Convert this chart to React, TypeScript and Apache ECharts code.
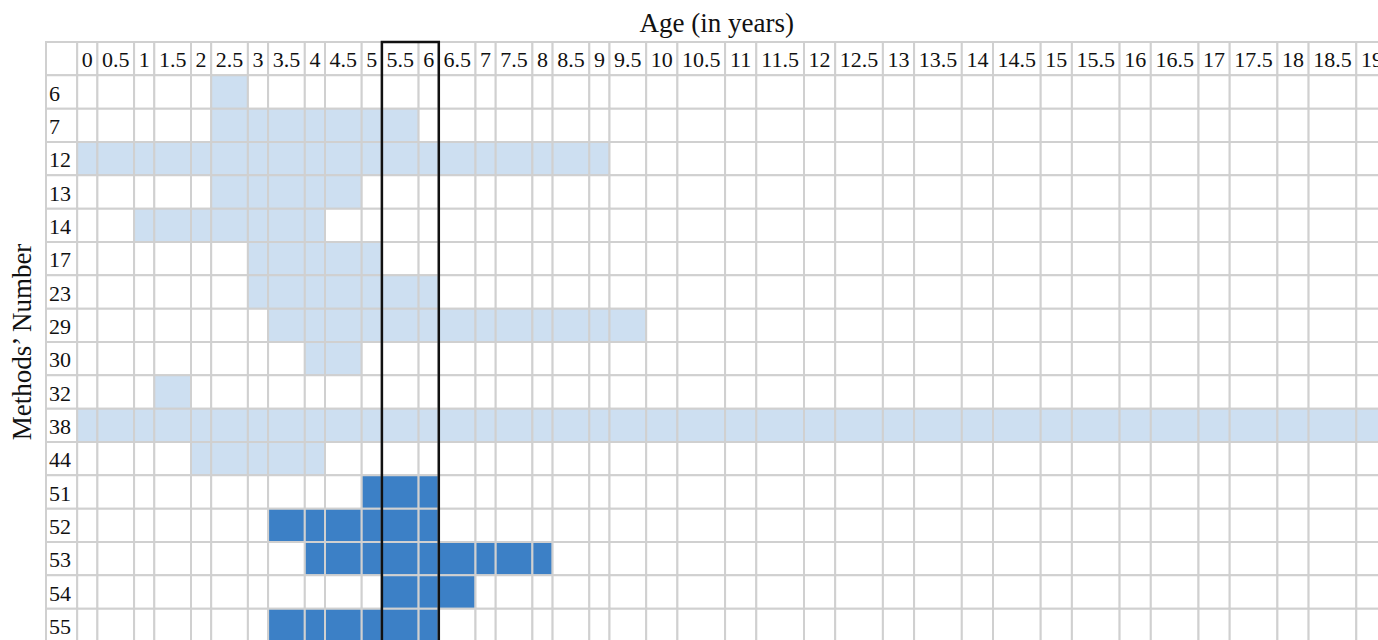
import React, { useEffect, useRef } from "react";
import * as echarts from "echarts";

// ---- data ----
const AGES = [
  "0", "0.5", "1", "1.5", "2", "2.5", "3", "3.5", "4", "4.5", "5", "5.5", "6", "6.5",
  "7", "7.5", "8", "8.5", "9", "9.5", "10", "10.5", "11", "11.5", "12", "12.5", "13",
  "13.5", "14", "14.5", "15", "15.5", "16", "16.5", "17", "17.5", "18", "18.5", "19",
];
const METHODS = ["6", "7", "12", "13", "14", "17", "23", "29", "30", "32", "38", "44", "51", "52", "53", "54", "55"];
const SPAN_FROM = ["2.5", "2.5", "0", "2.5", "1", "3", "3", "3.5", "4", "1.5", "0", "2", "5", "3.5", "4", "5.5", "3.5"];
const SPAN_TO = ["2.5", "5.5", "9", "4.5", "4", "5", "6", "9.5", "4.5", "1.5", "19", "4", "6", "6", "8", "6.5", "6"];
// 1 = light group, 2 = dark group
const GROUP = [1, 1, 1, 1, 1, 1, 1, 1, 1, 1, 1, 1, 2, 2, 2, 2, 2];
const FOCUS = ["5.5", "6"];
const X_TITLE = "Age (in years)";
const Y_TITLE = "Methods\u2019 Number";

// ---- style ----
const FONT = 22;
const PAD = 9.2;
const FAMILY = '"Liberation Serif", "Times New Roman", serif';
const LIGHT = "#cddff1";
const DARK = "#3c80c6";
const LINE = "#d0d0d0";

const textWidth = (s: string) =>
  s.split("").reduce((a, ch) => a + (ch === "." ? 0.25 : 0.5) * FONT, 0);
const colWidth = (s: string) => textWidth(s) + PAD;

export default function App() {
  const ref = useRef<HTMLDivElement>(null);
  useEffect(() => {
    if (!ref.current) return;
    const chart = echarts.init(ref.current, null, { renderer: "svg" });

    const labelW = Math.max(...METHODS.map(colWidth));
    const edges: number[] = [0, labelW];
    AGES.forEach((a) => edges.push(edges[edges.length - 1] + colWidth(a)));
    const total = edges[edges.length - 1];
    const rows = ["", ...METHODS];

    // cells: [x0, x1, row, state, col]  state: 0 empty,1 light,2 dark,3 header,4 label,5 corner
    const cells: number[][] = [];
    rows.forEach((_, r) => {
      for (let c = -1; c < AGES.length; c++) {
        let state = 0;
        if (r === 0) state = c === -1 ? 5 : 3;
        else if (c === -1) state = 4;
        else {
          const i = r - 1;
          const f = AGES.indexOf(SPAN_FROM[i]);
          const t = AGES.indexOf(SPAN_TO[i]);
          if (c >= f && c <= t) state = GROUP[i];
        }
        cells.push([edges[c + 1], edges[c + 2], r, state, c]);
      }
    });

    const fIdx = AGES.indexOf(FOCUS[0]);
    const tIdx = AGES.indexOf(FOCUS[FOCUS.length - 1]);
    const focus = [[edges[fIdx + 1], edges[tIdx + 2], 0, rows.length - 1]];

    chart.setOption({
      animation: false,
      backgroundColor: "#ffffff",
      grid: { left: 46, top: 42, width: total, height: 600, outerBoundsMode: "none", containLabel: false },
      xAxis: {
        type: "value",
        position: "top",
        min: 0,
        max: total,
        name: X_TITLE,
        nameLocation: "middle",
        nameGap: 6,
        nameTextStyle: { fontFamily: FAMILY, fontSize: 27, color: "#111", verticalAlign: "bottom" },
        axisLine: { show: false },
        axisTick: { show: false },
        axisLabel: { show: false },
        splitLine: { show: false },
      },
      yAxis: {
        type: "category",
        inverse: true,
        data: rows,
        name: Y_TITLE,
        nameLocation: "middle",
        nameRotate: 90,
        nameGap: 11,
        nameTextStyle: { fontFamily: FAMILY, fontSize: 27, color: "#111" },
        axisLine: { show: false },
        axisTick: { show: false },
        axisLabel: { show: false },
        splitLine: { show: false },
      },
      series: [
        {
          type: "custom",
          encode: { x: [0, 1], y: 2 },
          data: cells,
          renderItem: (params: any, api: any) => {
            const x0 = api.value(0), x1 = api.value(1), r = api.value(2);
            const state = api.value(3), c = api.value(4);
            const p0 = api.coord([x0, r]);
            const p1 = api.coord([x1, r]);
            const h = api.size([0, 1])[1];
            const fill = state === 1 ? LIGHT : state === 2 ? DARK : "#ffffff";
            const children: any[] = [
              {
                type: "rect",
                shape: { x: p0[0], y: p0[1] - h / 2, width: p1[0] - p0[0], height: h },
                style: { fill, stroke: LINE, lineWidth: 2 },
              },
            ];
            if (state === 3) {
              children.push({
                type: "text",
                style: {
                  text: AGES[c], x: (p0[0] + p1[0]) / 2, y: p0[1] + 1,
                  align: "center", verticalAlign: "middle",
                  fontFamily: FAMILY, fontSize: FONT, fill: "#111",
                },
              });
            } else if (state === 4) {
              children.push({
                type: "text",
                style: {
                  text: rows[r], x: p0[0] + 3, y: p0[1] + 1,
                  align: "left", verticalAlign: "middle",
                  fontFamily: FAMILY, fontSize: FONT, fill: "#111",
                },
              });
            }
            return { type: "group", children };
          },
          z: 1,
        },
        {
          type: "custom",
          encode: { x: [0, 1], y: [2, 3] },
          data: focus,
          renderItem: (params: any, api: any) => {
            const a = api.coord([api.value(0), api.value(2)]);
            const b = api.coord([api.value(1), api.value(3)]);
            const h = api.size([0, 1])[1];
            return {
              type: "rect",
              shape: { x: a[0], y: a[1] - h / 2, width: b[0] - a[0], height: b[1] - a[1] + h },
              style: { fill: "none", stroke: "#111", lineWidth: 2.5 },
            };
          },
          z: 5,
        },
      ],
    });
    return () => chart.dispose();
  }, []);
  return (
    <div
      ref={ref}
      style={{ position: "fixed", left: 0, top: 0, width: 1378, height: 640, background: "#fff" }}
    />
  );
}
